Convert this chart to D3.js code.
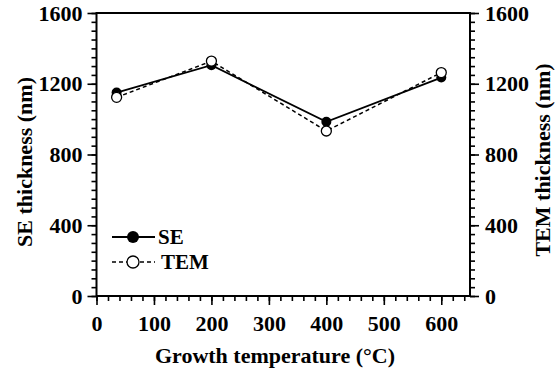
<!DOCTYPE html>
<html>
<head>
<meta charset="utf-8">
<style>
body { margin: 0; background: #fff; }
text { font-family: "Liberation Serif", "Times New Roman", serif; font-weight: bold; }
</style>
</head>
<body>
<svg id="chart" width="556" height="377"></svg>
<script src="https://d3js.org/d3.v7.min.js"></script>
<script>

// growth temperature (C)
const temps = [35, 200, 400, 600];
// thickness values (nm)
const seValues = [1150, 1305, 985, 1235];
const temValues = [1123, 1328, 933, 1263];

const xTicks = [0, 100, 200, 300, 400, 500, 600];
const yTicks = [0, 400, 800, 1200, 1600];

const svg = d3.select("#chart");

let margin = {top: 13, right: 86, bottom: 81, left: 96.5},
    width = 556 - margin.left - margin.right,
    height = 377 - margin.top - margin.bottom;

let chart = svg.append("g")
    .attr("transform", "translate(" + margin.left + "," + margin.top + ")");

let xScale = d3.scaleLinear().domain([0, 650]).range([0, width]);
let yScale = d3.scaleLinear().domain([0, 1600]).range([height, 0]);

// minor ticks first, then the major ones with labels
function styleAxis(g) {
    g.select(".domain").remove();
    g.selectAll("line").attr("stroke", "#000").attr("stroke-width", 1.6);
    g.selectAll("text").attr("fill", "#000").style("font-size", "22px");
}

chart.append("g")
    .attr("transform", "translate(0," + height + ")")
    .call(d3.axisBottom(xScale).tickValues(d3.range(0, 651, 20)).tickSize(5).tickFormat(""))
    .call(styleAxis);
chart.append("g")
    .attr("transform", "translate(0," + height + ")")
    .call(d3.axisBottom(xScale).tickValues(xTicks).tickSize(9).tickPadding(10).tickFormat(d3.format("d")))
    .call(styleAxis);

chart.append("g")
    .call(d3.axisLeft(yScale).tickValues(d3.range(0, 1601, 50)).tickSize(5).tickFormat(""))
    .call(styleAxis);
chart.append("g")
    .call(d3.axisLeft(yScale).tickValues(yTicks).tickSize(9).tickPadding(5).tickFormat(d3.format("d")))
    .call(styleAxis);

chart.append("g")
    .attr("transform", "translate(" + width + ",0)")
    .call(d3.axisRight(yScale).tickValues(d3.range(0, 1601, 50)).tickSize(5).tickFormat(""))
    .call(styleAxis);
chart.append("g")
    .attr("transform", "translate(" + width + ",0)")
    .call(d3.axisRight(yScale).tickValues(yTicks).tickSize(9).tickPadding(6).tickFormat(d3.format("d")))
    .call(styleAxis);

// frame
chart.append("rect")
    .attr("width", width).attr("height", height)
    .attr("fill", "none").attr("stroke", "#000").attr("stroke-width", 2);

// axis titles
svg.append("text")
    .attr("x", 275).attr("y", 363)
    .attr("text-anchor", "middle")
    .style("font-size", "22px")
    .text("Growth temperature (\u00b0C)");

svg.append("text")
    .attr("transform", "translate(32,162) rotate(-90)")
    .attr("text-anchor", "middle")
    .style("font-size", "22px")
    .text("SE thickness (nm)");

svg.append("text")
    .attr("transform", "translate(550,160) rotate(-90)")
    .attr("text-anchor", "middle")
    .style("font-size", "22px")
    .text("TEM thickness (nm)");

const seData = temps.map((t, i) => ({x: t, y: seValues[i]}));
const temData = temps.map((t, i) => ({x: t, y: temValues[i]}));

let line = d3.line().x(d => xScale(d.x)).y(d => yScale(d.y));

chart.append("path").datum(temData)
    .attr("d", line).attr("fill", "none")
    .attr("stroke", "#000").attr("stroke-width", 1.5).attr("stroke-dasharray", "4,3");
chart.append("path").datum(seData)
    .attr("d", line).attr("fill", "none")
    .attr("stroke", "#000").attr("stroke-width", 1.8);

chart.selectAll(".se").data(seData).join("circle")
    .attr("class", "se")
    .attr("cx", d => xScale(d.x)).attr("cy", d => yScale(d.y)).attr("r", 5)
    .attr("fill", "#000");
chart.selectAll(".tem").data(temData).join("circle")
    .attr("class", "tem")
    .attr("cx", d => xScale(d.x)).attr("cy", d => yScale(d.y)).attr("r", 5)
    .attr("fill", "#fff").attr("stroke", "#000").attr("stroke-width", 1.3);

// legend
let legend = svg.append("g");
legend.append("line").attr("x1", 112).attr("x2", 155).attr("y1", 237).attr("y2", 237)
    .attr("stroke", "#000").attr("stroke-width", 1.8);
legend.append("circle").attr("cx", 133).attr("cy", 237).attr("r", 6).attr("fill", "#000");
legend.append("text").attr("x", 158).attr("y", 244).style("font-size", "21px").text("SE");

legend.append("line").attr("x1", 112).attr("x2", 155).attr("y1", 262).attr("y2", 262)
    .attr("stroke", "#000").attr("stroke-width", 1.5).attr("stroke-dasharray", "4,3");
legend.append("circle").attr("cx", 133).attr("cy", 262).attr("r", 6)
    .attr("fill", "#fff").attr("stroke", "#000").attr("stroke-width", 1.3);
legend.append("text").attr("x", 161).attr("y", 269).style("font-size", "21px").text("TEM");

</script>
</body>
</html>
